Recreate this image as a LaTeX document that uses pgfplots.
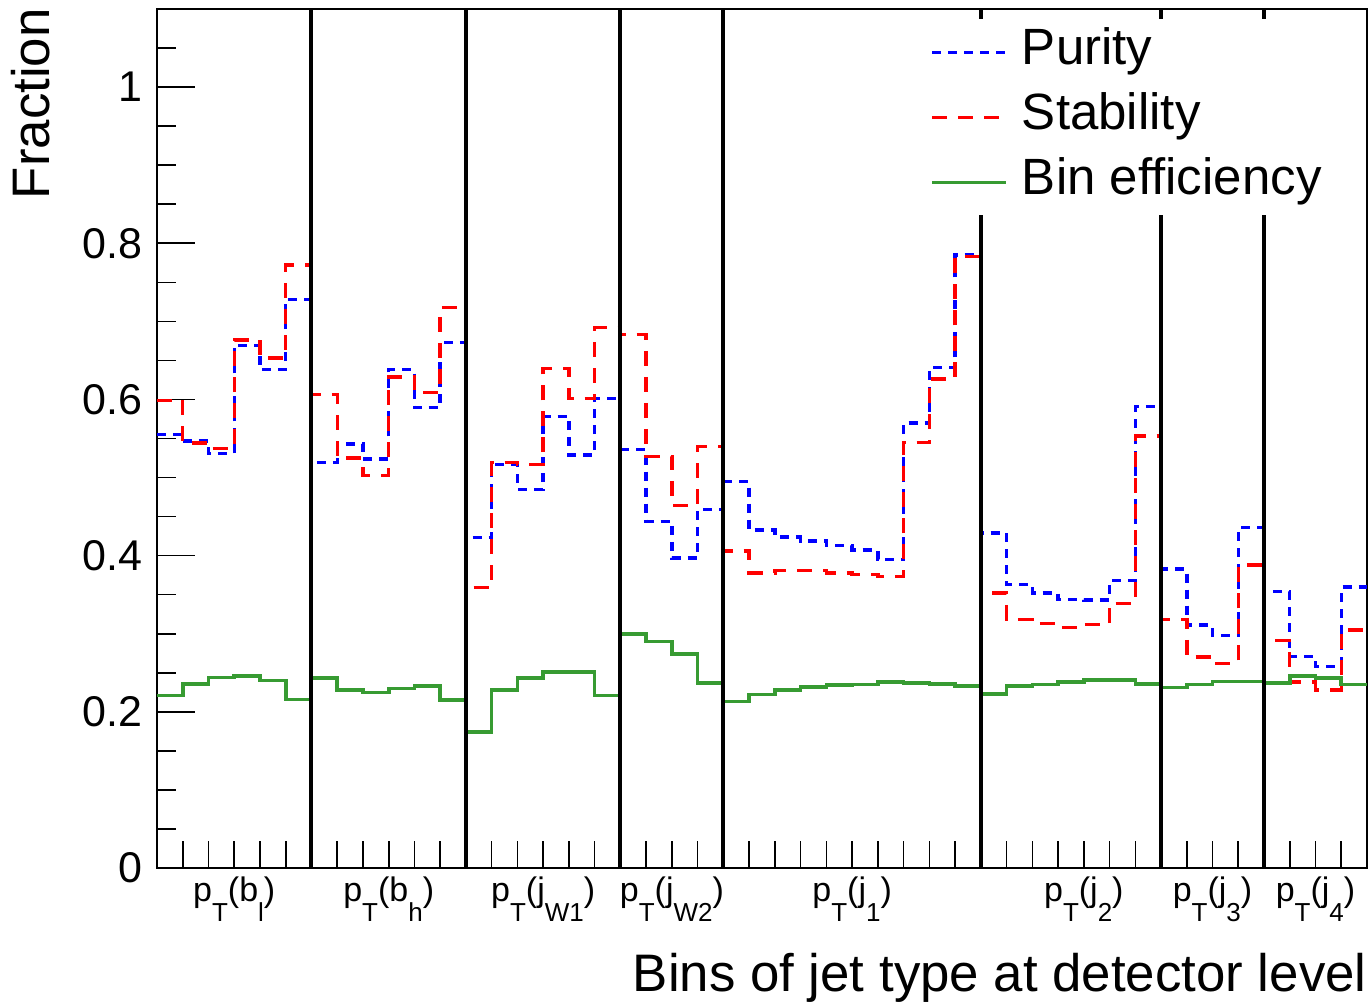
\documentclass[border=0pt]{standalone}
\usepackage{fontspec}
\setmainfont{Liberation Sans}
\usepackage{pgfplots}
\usepackage{pgfplotstable}
\pgfplotsset{compat=1.18}

\definecolor{purblue}{RGB}{0,0,255}
\definecolor{stabred}{RGB}{255,0,0}
\definecolor{effgreen}{RGB}{55,155,50}

% lowered subscript, ROOT style
\newcommand{\sbs}[1]{\raisebox{-10pt}{\fontsize{13}{13}\selectfont #1}}

% bin, purity, stability, bin efficiency (last row repeats bin 46 to close the step)
\pgfplotstableread{
bin pur stab eff
0 0.555 0.599 0.221
1 0.547 0.544 0.236
2 0.531 0.537 0.244
3 0.669 0.676 0.246
4 0.638 0.653 0.240
5 0.728 0.772 0.216
6 0.519 0.606 0.243
7 0.543 0.525 0.228
8 0.524 0.503 0.225
9 0.638 0.629 0.230
10 0.590 0.609 0.233
11 0.673 0.718 0.215
12 0.423 0.359 0.174
13 0.517 0.519 0.228
14 0.485 0.517 0.243
15 0.578 0.640 0.251
16 0.529 0.601 0.251
17 0.601 0.692 0.221
18 0.536 0.683 0.300
19 0.444 0.527 0.290
20 0.397 0.464 0.274
21 0.459 0.540 0.237
22 0.495 0.406 0.213
23 0.433 0.378 0.222
24 0.424 0.381 0.228
25 0.419 0.381 0.232
26 0.413 0.378 0.234
27 0.407 0.376 0.235
28 0.395 0.373 0.238
29 0.570 0.545 0.237
30 0.641 0.626 0.236
31 0.785 0.783 0.233
32 0.429 0.352 0.223
33 0.363 0.318 0.233
34 0.352 0.313 0.235
35 0.344 0.308 0.238
36 0.343 0.312 0.241
37 0.368 0.339 0.241
38 0.591 0.553 0.236
39 0.383 0.318 0.231
40 0.311 0.270 0.235
41 0.298 0.262 0.239
42 0.436 0.388 0.239
43 0.354 0.291 0.237
44 0.271 0.238 0.246
45 0.258 0.228 0.243
46 0.360 0.305 0.235
47 0.360 0.305 0.235
}\bins

\begin{document}
\begin{tikzpicture}
\useasboundingbox (-78.5pt,-67.5pt) rectangle (606pt,434pt);
\begin{axis}[
  scale only axis, width=605pt, height=429.5pt,
  anchor=south west, at={(0pt,0pt)},
  xmin=0, xmax=47, ymin=0, ymax=1.1,
  xtick=\empty,
  ytick={0,0.2,...,1.2}, minor y tick num=3, ytick pos=left,
  tick align=inside, major tick length=19pt, minor tick length=9.5pt,
  tick style={black, line width=0.8pt},
  axis line style={line width=1.3pt},
  /pgf/number format/assume math mode=true,
  yticklabel style={font=\fontsize{21.5}{21.5}\selectfont, inner sep=0pt, xshift=-7pt},
  clip mode=individual,
  legend cell align=left,
  legend style={at={(0.6223,0.9884)}, anchor=north west, draw=none, fill=white,
    inner xsep=10pt, inner ysep=4.5pt, font=\fontsize{25.5}{30}\selectfont,
    row sep=8.5pt, column sep=7pt,
    nodes={inner sep=0pt, text height=18pt, text depth=6pt}},
  legend image code/.code={\draw[#1] (0pt,0pt) -- (37pt,0pt);},
]
\addplot[const plot, purblue, line width=1.7pt, dash pattern=on 4.5pt off 3.5pt] table[x=bin, y=pur] {\bins};
\addlegendentry{Purity}
\addplot[const plot, stabred, line width=1.7pt, dash pattern=on 7.5pt off 5.5pt] table[x=bin, y=stab] {\bins};
\addlegendentry{Stability}
\addplot[const plot, effgreen, line width=1.8pt] table[x=bin, y=eff] {\bins};
\addlegendentry{Bin efficiency}

% group separators and bin edge ticks
\pgfplotsinvokeforeach{6,12,18,22,32,39,43}{
  \draw[black, line width=2pt] (axis cs:#1,0) -- (axis cs:#1,1.1);
}
\pgfplotsinvokeforeach{1,...,46}{
  \draw[black, line width=0.8pt] (axis cs:#1,0) -- ++(0pt,13.5pt);
}

% group labels
\begin{scope}[every node/.style={anchor=base, inner sep=0pt, font=\fontsize{17}{17}\selectfont}]
\node at ([yshift=-16.5pt]axis cs:3,0) {p\sbs{T}(b\sbs{l})};
\node at ([yshift=-16.5pt]axis cs:9,0) {p\sbs{T}(b\sbs{h})};
\node at ([yshift=-16.5pt]axis cs:15,0) {p\sbs{T}(j\sbs{W1})};
\node at ([yshift=-16.5pt]axis cs:20,0) {p\sbs{T}(j\sbs{W2})};
\node at ([yshift=-16.5pt]axis cs:27,0) {p\sbs{T}(j\sbs{1})};
\node at ([yshift=-16.5pt]axis cs:36,0) {p\sbs{T}(j\sbs{2})};
\node at ([yshift=-16.5pt]axis cs:41,0) {p\sbs{T}(j\sbs{3})};
\node at ([yshift=-16.5pt]axis cs:45,0) {p\sbs{T}(j\sbs{4})};
\end{scope}

% axis titles
\node[anchor=base east, inner sep=0pt, font=\fontsize{26.4}{26.4}\selectfont]
  at ([yshift=-61.5pt]rel axis cs:1,0) {Bins of jet type at detector level};
\node[xshift=-53.5pt, yshift=0.5pt, rotate=90, anchor=base east, inner sep=0pt,
  font=\fontsize{26.4}{26.4}\selectfont] at (rel axis cs:0,1) {Fraction};
\end{axis}
\end{tikzpicture}
\end{document}
